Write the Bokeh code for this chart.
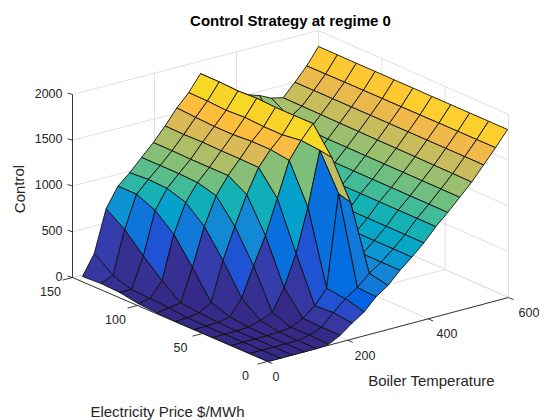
from bokeh.plotting import figure
from bokeh.models import Range1d, ColumnDataSource, LinearColorMapper
from bokeh.core.properties import value
from bokeh.embed import file_html
from bokeh.resources import INLINE

TITLE = "Control Strategy at regime 0"
XLABEL = "Boiler Temperature"
YLABEL = "Electricity Price $/MWh"
ZLABEL = "Control"

TEMPERATURE = [0, 30, 60, 90, 120, 150, 180, 210, 240, 270, 300, 330, 360, 390, 420, 450, 480, 510, 540, 570, 600]
PRICE = [0, 15, 30, 45, 60, 75, 90, 105, 120, 135, 150]

# control[t][p]: one row per temperature, one value per price
CONTROL = [
    [0, 0, 0, 0, 0, 0, 5, 20, 55, 65, 55],
    [0, 0, 0, 0, 0, 5, 25, 40, 50, 116, 270],
    [0, 0, 0, 0, 5, 22, 44, 197, 380, 580, 720],
    [0, 0, 0, 5, 30, 100, 393, 667, 840, 930, 930],
    [0, 0, 5, 44, 197, 522, 805, 980, 1045, 1055, 1040],
    [11, 25, 20, 95, 514, 858, 1105, 1160, 1170, 1170, 1170],
    [76, 76, 83, 330, 810, 1170, 1290, 1290, 1290, 1295, 1295],
    [175, 200, 185, 667, 1180, 1430, 1435, 1435, 1440, 1435, 1440],
    [262, 317, 340, 1137, 1560, 1590, 1590, 1575, 1575, 1585, 1600],
    [393, 404, 1340, 1724, 1743, 1715, 1715, 1727, 1715, 1727, 1730],
    [481, 523, 1210, 1610, 1893, 1890, 1890, 1900, 1890, 1900, 1900],
    [612, 612, 612, 612, 612, 612, 612, 612, 1300, 1500, 1800],
    [721, 721, 721, 721, 721, 721, 721, 721, 1250, 1400, 1700],
    [842, 842, 842, 842, 842, 842, 842, 842, 1200, 1280, 1600],
    [984, 984, 984, 984, 984, 984, 984, 984, 1180, 1200, 1520],
    [1104, 1104, 1104, 1104, 1104, 1104, 1104, 1104, 1170, 1190, 1475],
    [1235, 1235, 1235, 1235, 1235, 1235, 1235, 1235, 1240, 1290, 1410],
    [1366, 1368, 1368, 1370, 1370, 1370, 1372, 1372, 1375, 1375, 1377],
    [1519, 1518, 1517, 1516, 1515, 1514, 1513, 1512, 1511, 1510, 1508],
    [1672, 1670, 1668, 1666, 1664, 1662, 1660, 1658, 1656, 1653, 1650],
    [1836, 1835, 1833, 1832, 1830, 1830, 1828, 1828, 1826, 1826, 1825],
]

X_TICKS = [0, 200, 400, 600]
Y_TICKS = [0, 50, 100, 150]
Z_TICKS = [0, 500, 1000, 1500, 2000]

PARULA = ["#%02x%02x%02x" % tuple(round(c * 255) for c in rgb) for rgb in [
    (0.2081,0.1663,0.5292),(0.2116,0.1898,0.5777),(0.2123,0.2138,0.6270),(0.2081,0.2386,0.6771),
    (0.1959,0.2645,0.7279),(0.1707,0.2919,0.7792),(0.1253,0.3242,0.8303),(0.0591,0.3598,0.8683),
    (0.0117,0.3875,0.8820),(0.0060,0.4086,0.8828),(0.0165,0.4266,0.8786),(0.0329,0.4430,0.8720),
    (0.0498,0.4586,0.8641),(0.0629,0.4737,0.8554),(0.0723,0.4887,0.8467),(0.0779,0.5040,0.8384),
    (0.0793,0.5200,0.8312),(0.0749,0.5375,0.8263),(0.0641,0.5570,0.8240),(0.0488,0.5772,0.8228),
    (0.0343,0.5966,0.8199),(0.0265,0.6137,0.8135),(0.0239,0.6287,0.8038),(0.0231,0.6418,0.7913),
    (0.0228,0.6535,0.7768),(0.0267,0.6642,0.7607),(0.0384,0.6743,0.7436),(0.0590,0.6838,0.7254),
    (0.0843,0.6928,0.7062),(0.1133,0.7015,0.6859),(0.1453,0.7098,0.6646),(0.1801,0.7177,0.6424),
    (0.2178,0.7250,0.6193),(0.2586,0.7317,0.5954),(0.3022,0.7376,0.5712),(0.3482,0.7424,0.5473),
    (0.3953,0.7459,0.5244),(0.4420,0.7481,0.5033),(0.4871,0.7491,0.4840),(0.5300,0.7491,0.4661),
    (0.5709,0.7485,0.4494),(0.6099,0.7473,0.4337),(0.6473,0.7456,0.4188),(0.6834,0.7435,0.4044),
    (0.7184,0.7411,0.3905),(0.7525,0.7384,0.3768),(0.7858,0.7356,0.3633),(0.8185,0.7327,0.3498),
    (0.8507,0.7299,0.3360),(0.8824,0.7274,0.3217),(0.9139,0.7258,0.3063),(0.9450,0.7261,0.2886),
    (0.9739,0.7314,0.2666),(0.9938,0.7455,0.2403),(0.9990,0.7653,0.2164),(0.9955,0.7861,0.1967),
    (0.9880,0.8066,0.1794),(0.9789,0.8271,0.1633),(0.9697,0.8481,0.1475),(0.9626,0.8705,0.1309),
    (0.9589,0.8949,0.1132),(0.9598,0.9218,0.0948),(0.9661,0.9514,0.0755),(0.9763,0.9831,0.0538),
]]

# ---- view: where the floor corners of the box and of the surface land ----
BOX = {"o": (267, 361), "x": (508, 297), "y": (72, 277), "xy": (318, 213)}
SURF = {"o": (268, 361), "x": (507, 297), "y": (82, 281), "xy": (318, 213)}
Z_PX = 183 / 2000
X_MAX, Y_MAX = 600, 150


def project(x, y, z, c=BOX):
    u, v = x / X_MAX, y / Y_MAX
    sx = (1-u)*(1-v)*c["o"][0] + u*(1-v)*c["x"][0] + (1-u)*v*c["y"][0] + u*v*c["xy"][0]
    sy = (1-u)*(1-v)*c["o"][1] + u*(1-v)*c["x"][1] + (1-u)*v*c["y"][1] + u*v*c["xy"][1]
    return sx, sy - z * Z_PX


INK = "#262626"
GRID = "#e0e0e0"
FONT = value("Liberation Sans")

p = figure(width=560, height=420, output_backend="svg", toolbar_location=None,
           x_range=Range1d(0, 560), y_range=Range1d(420, 0),
           min_border=0, outline_line_color=None, background_fill_color="white")
p.xaxis.visible = False
p.yaxis.visible = False
p.xgrid.visible = False
p.ygrid.visible = False


def seg(a, b, color, width):
    p.line([a[0], b[0]], [a[1], b[1]], line_color=color, line_width=width)


# grid on the floor and the two back walls
for t in X_TICKS:
    seg(project(t, 0, 0), project(t, Y_MAX, 0), GRID, 1)
    seg(project(t, Y_MAX, 0), project(t, Y_MAX, Z_TICKS[-1]), GRID, 1)
for t in Y_TICKS:
    seg(project(0, t, 0), project(X_MAX, t, 0), GRID, 1)
    seg(project(X_MAX, t, 0), project(X_MAX, t, Z_TICKS[-1]), GRID, 1)
for t in Z_TICKS:
    seg(project(0, Y_MAX, t), project(X_MAX, Y_MAX, t), GRID, 1)
    seg(project(X_MAX, Y_MAX, t), project(X_MAX, 0, t), GRID, 1)

# axes
seg(project(0, 0, 0), project(X_MAX, 0, 0), INK, 0.9)
seg(project(0, 0, 0), project(0, Y_MAX, 0), INK, 0.9)
seg(project(0, Y_MAX, 0), project(0, Y_MAX, Z_TICKS[-1]), INK, 0.9)

for t in X_TICKS:
    a = project(t, 0, 0)
    seg(a, (a[0] + 5, a[1] + 2.2), INK, 0.9)
for t in Y_TICKS:
    a = project(0, t, 0)
    seg(a, (a[0] - 10, a[1] + 2.6), INK, 0.9)
for t in Z_TICKS:
    a = project(0, Y_MAX, t)
    seg(a, (a[0] - 5, a[1] - 1.5), INK, 0.9)

# surface, painted from the far corner to the near one
xs, ys, cs = [], [], []
for i in range(len(TEMPERATURE) - 2, -1, -1):
    for j in range(len(PRICE) - 2, -1, -1):
        corners = [(i, j), (i + 1, j), (i + 1, j + 1), (i, j + 1)]
        pts = [project(TEMPERATURE[a], PRICE[b], CONTROL[a][b], SURF) for a, b in corners]
        xs.append([q[0] for q in pts])
        ys.append([q[1] for q in pts])
        cs.append(CONTROL[i][j])
mapper = LinearColorMapper(palette=PARULA, low=0, high=1900)
p.patches("xs", "ys", source=ColumnDataSource(dict(xs=xs, ys=ys, c=cs)),
          fill_color={"field": "c", "transform": mapper}, line_color="#101010", line_width=0.9)


def label(x, y, s, size="12.5px", color=INK, align="center", style="normal", angle=0):
    p.text([x], [y], text=[s], text_font=FONT, text_font_size=size, text_color=color,
           text_align=align, text_baseline="middle", text_font_style=style, angle=angle)


for t in Z_TICKS:
    a = project(0, Y_MAX, t)
    label(a[0] - 10, a[1] - 1.5, str(t), align="right")
for t in Y_TICKS:
    a = project(0, t, 0)
    label(a[0] - 22, a[1] + 13.5, str(t))
for t in X_TICKS:
    a = project(t, 0, 0)
    label(a[0] + 5 + t / 120, a[1] + 15, str(t), align="left")

label(290, 20, TITLE, size="15px", color="#000000", style="bold")
label(431, 380, XLABEL, size="15px")
label(167, 411, YLABEL, size="15px")
label(18.5, 188.5, ZLABEL, size="15px", angle=1.5708)

open("out.html", "w").write(file_html(p, INLINE))
